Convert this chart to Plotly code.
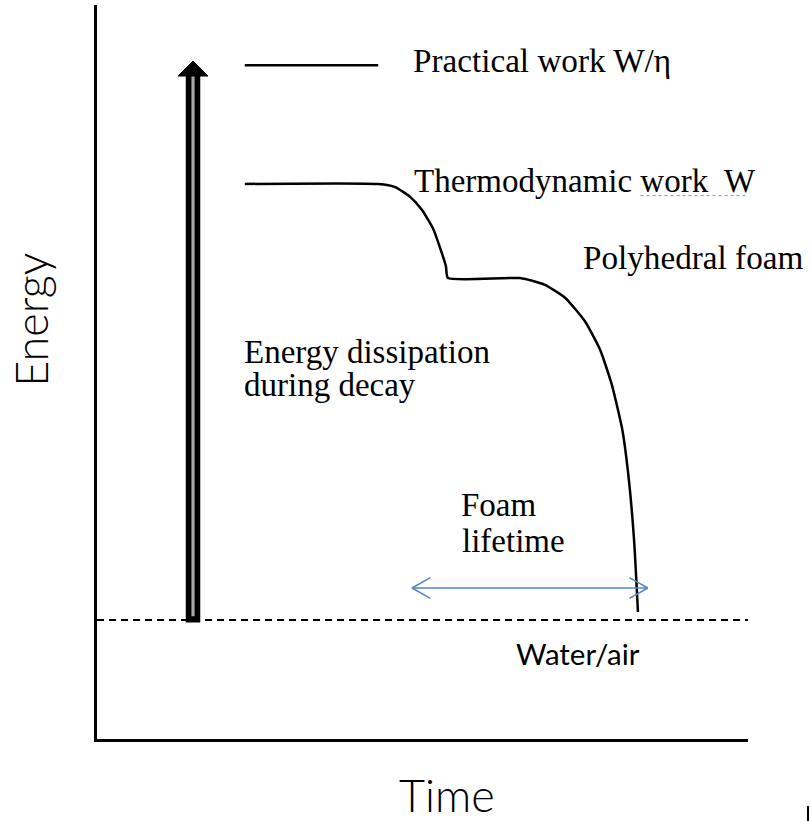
import plotly.graph_objects as go

# ---- data (arbitrary time / energy units; water/air level = 0) ----
TIME_PRACTICAL = [2.27, 4.32]
ENERGY_PRACTICAL = [9.02, 9.02]

TIME_THERMO = [2.27, 4.32, 4.58, 4.81, 4.99, 5.16, 5.28, 5.36, 5.39,
               6.50, 6.88, 7.19, 7.50, 7.73, 7.91, 8.07, 8.17, 8.25, 8.31]
ENERGY_THERMO = [7.09, 7.09, 7.04, 6.88, 6.67, 6.37, 6.02, 5.75, 5.56,
                 5.56, 5.45, 5.24, 4.85, 4.39, 3.82, 3.09, 2.28, 1.30, 0.13]

WATER_AIR_LEVEL = 0.0
TIME_RANGE = [0, 10]
ENERGY_RANGE = [-1.935, 10]

ARROW_TIME = 1.475          # energy-dissipation arrow
ARROW_BOTTOM = -0.04
ARROW_TOP = 9.09

LIFETIME_START = 4.84       # foam lifetime double arrow
LIFETIME_END = 8.46
LIFETIME_LEVEL = 0.52

SERIF = "Liberation Serif, Times New Roman, serif"
SANS = "Lato, Carlito, Calibri, sans-serif"

fig = go.Figure()

# water/air dashed reference level
fig.add_trace(go.Scatter(x=TIME_RANGE, y=[WATER_AIR_LEVEL, WATER_AIR_LEVEL], mode="lines",
                         line=dict(color="black", width=2, dash="7px,5px"), hoverinfo="skip"))

# practical work level
fig.add_trace(go.Scatter(x=TIME_PRACTICAL, y=ENERGY_PRACTICAL, mode="lines",
                         line=dict(color="black", width=2.5), hoverinfo="skip"))

# thermodynamic work decay curve
fig.add_trace(go.Scatter(x=TIME_THERMO, y=ENERGY_THERMO, mode="lines",
                         line=dict(color="black", width=2.5, shape="spline", smoothing=0.5),
                         hoverinfo="skip"))

# thick energy arrow: shaft (black outline + gray core) and head
head_len = 0.245
head_half = 0.23
fig.add_trace(go.Scatter(x=[ARROW_TIME, ARROW_TIME], y=[ARROW_BOTTOM, ARROW_TOP - head_len],
                         mode="lines", line=dict(color="black", width=14.5), hoverinfo="skip"))
fig.add_trace(go.Scatter(x=[ARROW_TIME, ARROW_TIME], y=[ARROW_BOTTOM + 0.1, ARROW_TOP - head_len + 0.05],
                         mode="lines", line=dict(color="#a8a8a8", width=3.2), hoverinfo="skip"))
fig.add_trace(go.Scatter(x=[ARROW_TIME - head_half, ARROW_TIME + head_half, ARROW_TIME, ARROW_TIME - head_half],
                         y=[ARROW_TOP - head_len, ARROW_TOP - head_len, ARROW_TOP, ARROW_TOP - head_len],
                         mode="lines", fill="toself", fillcolor="black",
                         line=dict(color="black", width=1), hoverinfo="skip"))

# foam lifetime double-headed arrow
blue = "#5584c0"
vx = 0.28
vy = 0.17
fig.add_trace(go.Scatter(x=[LIFETIME_START, LIFETIME_END], y=[LIFETIME_LEVEL, LIFETIME_LEVEL],
                         mode="lines", line=dict(color=blue, width=1.5), hoverinfo="skip"))
fig.add_trace(go.Scatter(x=[LIFETIME_START + vx, LIFETIME_START, LIFETIME_START + vx],
                         y=[LIFETIME_LEVEL + vy, LIFETIME_LEVEL, LIFETIME_LEVEL - vy],
                         mode="lines", line=dict(color=blue, width=1.5), hoverinfo="skip"))
fig.add_trace(go.Scatter(x=[LIFETIME_END - vx, LIFETIME_END, LIFETIME_END - vx],
                         y=[LIFETIME_LEVEL + vy, LIFETIME_LEVEL, LIFETIME_LEVEL - vy],
                         mode="lines", line=dict(color=blue, width=1.5), hoverinfo="skip"))

# text labels
def label(txt, x, y, font, size, weight=400):
    fig.add_annotation(x=x, y=y, text=txt, showarrow=False, xanchor="left", yanchor="middle",
                       font=dict(family=font, size=size, color="black", weight=weight))

label("Practical work W/η", 4.82, 9.09, SERIF, 33.2)
label("Thermodynamic work  W", 4.84, 7.14, SERIF, 33)
label("Polyhedral foam", 7.44, 5.90, SERIF, 33.2)
label("Energy dissipation", 2.23, 4.36, SERIF, 33)
label("during decay", 2.23, 3.82, SERIF, 33)
label("Foam", 5.56, 1.87, SERIF, 33)
label("lifetime", 5.57, 1.29, SERIF, 33)
label("Water/air", 6.41, -0.54, SANS, 29.5, weight=400)

# spell-check squiggle under "work W"
fig.add_shape(type="line", x0=8.35, x1=10.15, y0=6.90, y1=6.90,
              line=dict(color="#5cb85c", width=1, dash="dot"))

# axis titles (paper-referenced so they sit outside the plotting area)
fig.add_annotation(xref="paper", yref="paper", x=-0.1014, y=0.571, text="Energy", showarrow=False,
                   textangle=-90, xanchor="center", yanchor="middle",
                   font=dict(family=SANS, size=45, color="black", weight=300))
fig.add_annotation(xref="paper", yref="paper", x=0.538, y=-0.0763, text="Time", showarrow=False,
                   xanchor="center", yanchor="middle",
                   font=dict(family=SANS, size=45, color="black", weight=300))

# small cropped mark at bottom-right corner
fig.add_shape(type="line", xref="paper", yref="paper", x0=1.0922, x1=1.0922, y0=-0.0914, y1=-0.112,
              line=dict(color="black", width=2))

fig.update_layout(
    width=810, height=821,
    margin=dict(l=97, r=62, t=5, b=82),
    paper_bgcolor="white", plot_bgcolor="white",
    showlegend=False,
    xaxis=dict(range=TIME_RANGE, showline=True, linecolor="black", linewidth=2.5,
               showgrid=False, zeroline=False, showticklabels=False, ticks=""),
    yaxis=dict(range=ENERGY_RANGE, showline=True, linecolor="black", linewidth=2.5,
               showgrid=False, zeroline=False, showticklabels=False, ticks=""),
)

fig.write_html("out.html", config={"displayModeBar": False},
               post_script="document.body.style.margin='0';")
